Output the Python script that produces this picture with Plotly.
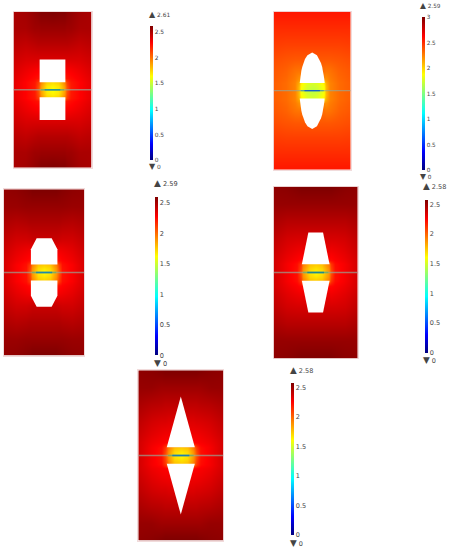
"""Five field plots with rainbow colour bars, one per notch shape."""

from __future__ import annotations

import plotly.graph_objects as go

WIDTH = 451
HEIGHT = 550

# quarter grid of the field, mirrored when it is drawn
GRID_X = [0, 0.15, 0.3, 0.36, 0.45, 0.7, 1]
GRID_Y = [0, 0.1, 0.2, 0.3, 0.5, 0.8, 1.2, 1.6, 2]

FIELD_RECT = [
    [1.62, 1.68, 1.88, 2.05, 2.22, 2.28, 2.35],
    [1.66, 1.7, 1.9, 2.08, 2.22, 2.28, 2.35],
    [1.72, 1.76, 1.95, 2.12, 2.23, 2.28, 2.35],
    [2.2, 2.2, 2.2, 2.24, 2.26, 2.3, 2.36],
    [2.3, 2.3, 2.3, 2.29, 2.3, 2.33, 2.38],
    [2.38, 2.38, 2.38, 2.38, 2.38, 2.38, 2.41],
    [2.47, 2.47, 2.47, 2.47, 2.46, 2.44, 2.46],
    [2.54, 2.54, 2.54, 2.53, 2.53, 2.5, 2.5],
    [2.61, 2.6, 2.6, 2.58, 2.56, 2.52, 2.5],
]
FIELD_ELLIPSE = [
    [1.68, 1.72, 1.86, 2.08, 2.24, 2.31, 2.35],
    [1.72, 1.76, 1.88, 2.08, 2.24, 2.31, 2.35],
    [1.76, 1.79, 1.92, 2.12, 2.24, 2.31, 2.35],
    [2.22, 2.22, 2.22, 2.2, 2.26, 2.32, 2.36],
    [2.3, 2.3, 2.3, 2.28, 2.29, 2.34, 2.37],
    [2.37, 2.37, 2.37, 2.37, 2.37, 2.38, 2.4],
    [2.44, 2.44, 2.44, 2.44, 2.44, 2.44, 2.45],
    [2.5, 2.5, 2.5, 2.5, 2.5, 2.5, 2.5],
    [2.56, 2.56, 2.56, 2.56, 2.56, 2.56, 2.56],
]
FIELD_OCTAGON = [
    [1.62, 1.68, 1.88, 2.05, 2.22, 2.28, 2.37],
    [1.68, 1.72, 1.9, 2.08, 2.22, 2.28, 2.37],
    [1.75, 1.78, 1.95, 2.12, 2.23, 2.28, 2.37],
    [2.2, 2.2, 2.2, 2.24, 2.26, 2.3, 2.37],
    [2.3, 2.3, 2.3, 2.29, 2.3, 2.33, 2.39],
    [2.4, 2.4, 2.4, 2.39, 2.38, 2.38, 2.42],
    [2.47, 2.47, 2.47, 2.47, 2.46, 2.45, 2.47],
    [2.53, 2.53, 2.53, 2.53, 2.53, 2.52, 2.52],
    [2.59, 2.59, 2.59, 2.58, 2.57, 2.55, 2.54],
]
FIELD_TRAPEZOID = [
    [1.62, 1.68, 1.88, 2.05, 2.22, 2.28, 2.37],
    [1.68, 1.72, 1.9, 2.08, 2.22, 2.28, 2.37],
    [1.75, 1.78, 1.95, 2.12, 2.23, 2.28, 2.37],
    [2.24, 2.24, 2.24, 2.24, 2.26, 2.3, 2.37],
    [2.3, 2.3, 2.3, 2.29, 2.3, 2.33, 2.39],
    [2.36, 2.36, 2.36, 2.36, 2.36, 2.37, 2.42],
    [2.44, 2.44, 2.44, 2.44, 2.44, 2.44, 2.47],
    [2.52, 2.52, 2.52, 2.52, 2.52, 2.52, 2.52],
    [2.58, 2.58, 2.58, 2.58, 2.57, 2.55, 2.54],
]
FIELD_TRIANGLE = [
    [1.62, 1.68, 1.88, 2.05, 2.22, 2.28, 2.37],
    [1.68, 1.72, 1.9, 2.08, 2.22, 2.28, 2.37],
    [1.75, 1.78, 1.95, 2.12, 2.23, 2.28, 2.37],
    [2.26, 2.26, 2.26, 2.26, 2.27, 2.3, 2.37],
    [2.29, 2.29, 2.29, 2.29, 2.3, 2.33, 2.39],
    [2.34, 2.34, 2.34, 2.35, 2.35, 2.37, 2.42],
    [2.42, 2.42, 2.42, 2.42, 2.43, 2.44, 2.47],
    [2.5, 2.5, 2.5, 2.5, 2.5, 2.52, 2.52],
    [2.58, 2.58, 2.58, 2.58, 2.57, 2.55, 2.54],
]

# upper half of each notch outline, mirrored for the lower one
HOLE_RECT_X = [-0.33, -0.33, 0.33, 0.33]
HOLE_RECT_Y = [0.19, 0.78, 0.78, 0.19]
HOLE_ELLIPSE_X = [-0.323, -0.314, -0.3, -0.283, -0.259, -0.228, -0.187, -0.123, 0,
                  0.123, 0.187, 0.228, 0.259, 0.283, 0.3, 0.314, 0.323]
HOLE_ELLIPSE_Y = [0.195, 0.3, 0.4, 0.5, 0.6, 0.7, 0.8, 0.9, 0.97,
                  0.9, 0.8, 0.7, 0.6, 0.5, 0.4, 0.3, 0.195]
HOLE_OCTAGON_X = [-0.33, -0.33, -0.187, 0.187, 0.33, 0.33]
HOLE_OCTAGON_Y = [0.19, 0.56, 0.825, 0.825, 0.56, 0.19]
HOLE_TRAPEZOID_X = [-0.33, -0.175, 0.175, 0.33]
HOLE_TRAPEZOID_Y = [0.19, 0.93, 0.93, 0.19]
HOLE_TRIANGLE_X = [-0.33, 0, 0.33]
HOLE_TRIANGLE_Y = [0.195, 1.385, 0.195]

# thin low-field sliver along the mid line
SLIVER_OUTER_X = [-0.3, 0.3]
SLIVER_INNER_X = [-0.2, 0.2]
SLIVER_Y = [0, 0]

BAR_MAX = [2.61, 3, 2.59, 2.58, 2.58]
MAX_LABELS = ["2.61", "2.59", "2.59", "2.58", "2.58"]
TICKS_25 = [0, 0.5, 1, 1.5, 2, 2.5]
TICKS_3 = [0, 0.5, 1, 1.5, 2, 2.5, 3]
TICK_TEXT_25 = ["0", "0.5", "1", "1.5", "2", "2.5"]
TICK_TEXT_3 = ["0", "0.5", "1", "1.5", "2", "2.5", "3"]

RAINBOW = [
    [0, "#00007f"], [0.12, "#0000ff"], [0.37, "#00ffff"], [0.5, "#80ff80"],
    [0.625, "#ffff00"], [0.875, "#ff0000"], [1, "#7f0000"],
]

PANELS = [
    dict(field=FIELD_RECT, hole=(HOLE_RECT_X, HOLE_RECT_Y), ticks=(TICKS_25, TICK_TEXT_25),
         box=(13.5, 91.5, 12, 167.5), sliver=("#7fae60", "#2a9a90"),
         bar=(149.5, 26.3, 160.3), up=(146.7, 14.3), down=166.3, font=5.9),
    dict(field=FIELD_ELLIPSE, hole=(HOLE_ELLIPSE_X, HOLE_ELLIPSE_Y), ticks=(TICKS_3, TICK_TEXT_3),
         box=(273.7, 350.7, 11.7, 169.7), sliver=("#5fa890", "#1464c8"),
         bar=(421.8, 17.3, 170), up=(418, 6), down=176.7, font=5.7),
    dict(field=FIELD_OCTAGON, hole=(HOLE_OCTAGON_X, HOLE_OCTAGON_Y), ticks=(TICKS_25, TICK_TEXT_25),
         box=(4, 84.3, 189.3, 355.7), sliver=("#7fae60", "#1e8aa8"),
         bar=(154.8, 197.3, 355.3), up=(152, 183), down=363.3, font=6.6),
    dict(field=FIELD_TRAPEZOID, hole=(HOLE_TRAPEZOID_X, HOLE_TRAPEZOID_Y), ticks=(TICKS_25, TICK_TEXT_25),
         box=(273.7, 357.7, 186.7, 358.3), sliver=("#7fae60", "#1e8a90"),
         bar=(424.6, 200, 352.7), up=(421.3, 186), down=360, font=6.5),
    dict(field=FIELD_TRIANGLE, hole=(HOLE_TRIANGLE_X, HOLE_TRIANGLE_Y), ticks=(TICKS_25, TICK_TEXT_25),
         box=(138.3, 223.3, 370.3, 540.7), sliver=("#7fae60", "#1e80b0"),
         bar=(291, 383.3, 535), up=(288, 370), down=542.7, font=6.5),
]

TEXT_COLOR = "#444444"
FONT = "DejaVu Sans"


def paper_y(pixel_y: float) -> float:
    return 1 - pixel_y / HEIGHT


def mirror_field(rows: list[list[float]]) -> tuple[list[float], list[float], list[list[float]]]:
    xs = [-v for v in reversed(GRID_X[1:])] + GRID_X
    ys = [-v for v in reversed(GRID_Y[1:])] + GRID_Y
    full_rows = [rows[i] for i in range(len(rows) - 1, 0, -1)] + rows
    z = [list(reversed(row[1:])) + row for row in full_rows]
    return xs, ys, z


def add_line(fig: go.Figure, x: list[float], color: str, xref: str, yref: str) -> None:
    fig.add_trace(
        go.Scatter(x=x, y=SLIVER_Y, mode="lines", line=dict(color=color, width=1.3),
                   xaxis=xref, yaxis=yref, hoverinfo="skip", showlegend=False)
    )


def add_panel(fig: go.Figure, index: int, panel: dict) -> None:
    suffix = "" if index == 0 else str(index + 1)
    xref, yref = f"x{suffix}", f"y{suffix}"
    left, right, top, bottom = panel["box"]
    bar_x, bar_top, bar_bottom = panel["bar"]
    tick_vals, tick_text = panel["ticks"]

    xs, ys, z = mirror_field(panel["field"])
    fig.add_trace(
        go.Heatmap(
            x=xs, y=ys, z=z, zsmooth="best", xaxis=xref, yaxis=yref, hoverinfo="skip",
            colorscale=RAINBOW, zmin=0, zmax=BAR_MAX[index],
            colorbar=dict(
                x=bar_x / WIDTH, xanchor="left", xpad=0, ypad=0,
                y=paper_y(bar_bottom), yanchor="bottom",
                len=(bar_bottom - bar_top) / HEIGHT, lenmode="fraction",
                thickness=2.5, outlinewidth=0, ticks="",
                tickvals=tick_vals, ticktext=tick_text,
                tickfont=dict(family=FONT, size=panel["font"], color=TEXT_COLOR),
            ),
        )
    )
    hole_x, hole_y = panel["hole"]
    for sign in (1, -1):
        fig.add_trace(
            go.Scatter(x=hole_x, y=[sign * v for v in hole_y], mode="lines", fill="toself",
                       fillcolor="white", line=dict(width=0, color="white"),
                       xaxis=xref, yaxis=yref, hoverinfo="skip", showlegend=False)
        )
    add_line(fig, [-1, 1], "rgba(150,165,150,0.7)", xref, yref)
    add_line(fig, SLIVER_OUTER_X, panel["sliver"][0], xref, yref)
    add_line(fig, SLIVER_INNER_X, panel["sliver"][1], xref, yref)

    axis_style = dict(showgrid=False, zeroline=False, showticklabels=False, ticks="",
                      showline=True, mirror=True, linecolor="rgba(225,175,175,0.45)", linewidth=1)
    fig.update_layout(
        {
            f"xaxis{suffix}": dict(domain=[left / WIDTH, right / WIDTH], range=[-1, 1],
                                   anchor=yref, **axis_style),
            f"yaxis{suffix}": dict(domain=[paper_y(bottom), paper_y(top)], range=[-2, 2],
                                   anchor=xref, **axis_style),
        }
    )

    marker_size = panel["font"] * 1.35
    for pos_y, glyph, value in ((panel["up"][1], "▲", MAX_LABELS[index]), (panel["down"], "▼", "0")):
        fig.add_annotation(
            x=panel["up"][0] / WIDTH, y=paper_y(pos_y), xref="paper", yref="paper",
            text=f"<span style='font-size:{marker_size:.1f}px'>{glyph}</span> {value}",
            showarrow=False, xanchor="left", yanchor="middle",
            font=dict(family=FONT, size=panel["font"], color=TEXT_COLOR),
        )


def main() -> None:
    fig = go.Figure()
    for index, panel in enumerate(PANELS):
        add_panel(fig, index, panel)
    fig.update_layout(
        width=WIDTH, height=HEIGHT, margin=dict(l=0, r=0, t=0, b=0),
        paper_bgcolor="white", plot_bgcolor="white", showlegend=False,
    )
    fig.write_html(
        "out.html",
        config={"displayModeBar": False},
        post_script="document.body.style.margin='0';",
    )


if __name__ == "__main__":
    main()
